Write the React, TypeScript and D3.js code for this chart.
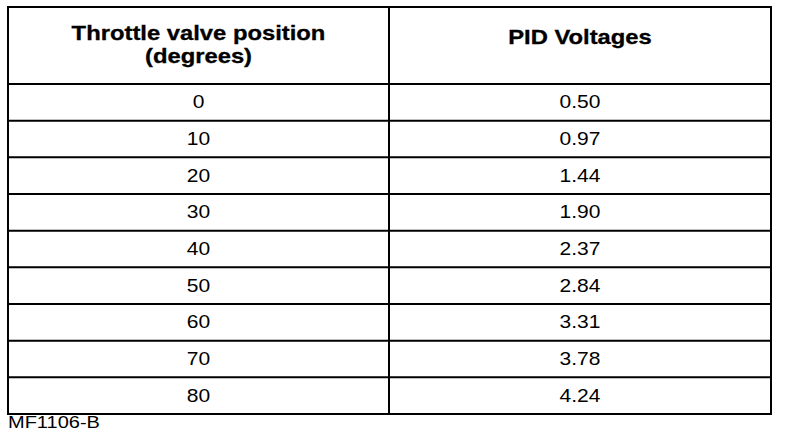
import React from 'react';
import * as d3 from 'd3';

// Table values
const headers = ['Throttle valve position\n(degrees)', 'PID Voltages'];
const positions = ['0', '10', '20', '30', '40', '50', '60', '70', '80'];
const voltages = ['0.50', '0.97', '1.44', '1.90', '2.37', '2.84', '3.31', '3.78', '4.24'];
const figureCode = 'MF1106-B';

const WIDTH = 800;
const HEIGHT = 442;
const FONT = '"Liberation Sans", Arial, Helvetica, sans-serif';

export default function App() {
  const table = { left: 8, right: 771, top: 7, header: 84, bottom: 414 };
  const divider = 389;

  const rowScale = d3.scaleBand<number>()
    .domain(d3.range(positions.length))
    .range([table.header, table.bottom]);

  const colCenters = [(table.left + divider) / 2, (divider + table.right) / 2];
  const columns = [positions, voltages];

  // the scanned type is wider than Arial, so stretch it horizontally
  const stretched = (x: number, y: number, s: number) => `translate(${x},${y}) scale(${s},1)`;

  return (
    <svg
      width={WIDTH}
      height={HEIGHT}
      style={{ position: 'absolute', left: 0, top: 0, background: '#fff' }}
      viewBox={`0 0 ${WIDTH} ${HEIGHT}`}
    >
      <rect x={0} y={0} width={WIDTH} height={HEIGHT} fill="#fff" />

      {/* outer border */}
      <rect
        x={table.left}
        y={table.top}
        width={table.right - table.left}
        height={table.bottom - table.top}
        fill="none"
        stroke="#000"
        strokeWidth={2}
      />

      {/* column divider */}
      <line x1={divider} x2={divider} y1={table.top} y2={table.bottom} stroke="#000" strokeWidth={2} />

      {/* row lines */}
      {rowScale.domain().map(i => (
        <line
          key={`row-${i}`}
          x1={table.left}
          x2={table.right}
          y1={rowScale(i)!}
          y2={rowScale(i)!}
          stroke="#000"
          strokeWidth={2}
        />
      ))}

      {/* headers */}
      {headers.map((h, c) => {
        const lines = h.split('\n');
        const baseY = lines.length > 1 ? 40 : 44;
        return lines.map((line, li) => (
          <text
            key={`h-${c}-${li}`}
            transform={stretched(colCenters[c], baseY + li * 23, 1.22)}
            textAnchor="middle"
            fontFamily={FONT}
            fontWeight="bold"
            fontSize={19.5}
            stroke="#000"
            strokeWidth={0.3}
            fill="#000"
          >
            {line}
          </text>
        ));
      })}

      {/* body cells */}
      {columns.map((col, c) =>
        col.map((val, i) => (
          <text
            key={`c-${c}-${i}`}
            transform={stretched(colCenters[c], rowScale(i)! + rowScale.bandwidth() / 2 + 6, 1.2)}
            textAnchor="middle"
            fontFamily={FONT}
            fontSize={17.5}
            fill="#000"
          >
            {val}
          </text>
        ))
      )}

      {/* figure code */}
      <text
        transform={stretched(8, 428, 1.25)}
        fontFamily={FONT}
        fontSize={16}
        fill="#000"
      >
        {figureCode}
      </text>
    </svg>
  );
}
